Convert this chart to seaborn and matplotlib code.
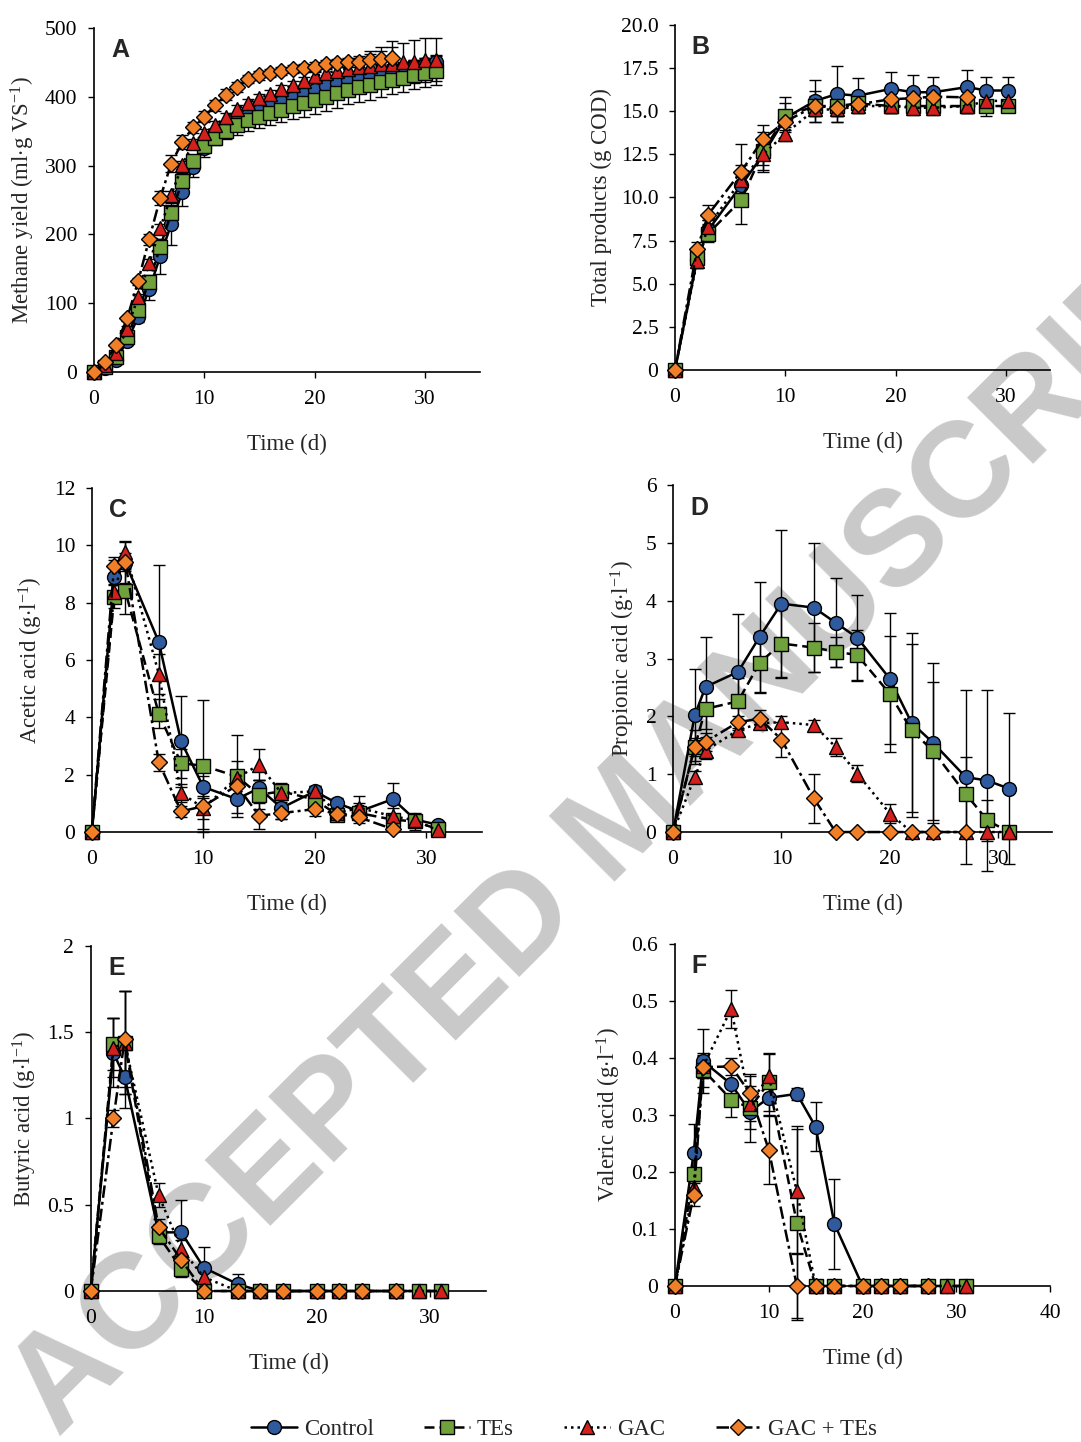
"""Methane yield, total products and VFA profiles for the four digester treatments."""

import matplotlib
matplotlib.use("Agg")
import matplotlib.pyplot as plt
import numpy as np
import seaborn as sns
from matplotlib.lines import Line2D
from matplotlib.ticker import FuncFormatter

# ---- data ----
SERIES = ["Control", "TEs", "GAC", "GAC + TEs"]

# A: methane yield, sampled daily
DAYS_A = list(range(32))
DAYS_A_GT = list(range(28))
A_CONTROL = [0, 6, 18, 45, 80, 120, 168, 215, 262, 298, 325, 342, 355, 365, 373, 380,
             386, 392, 398, 404, 410, 415, 420, 424, 428, 431, 435, 438, 441, 444, 447, 450]
A_CONTROL_ERR = [0, 2, 4, 6, 8, 16, 25, 30, 20, 15, 12, 10, 10, 10, 10, 10,
                 10, 10, 10, 10, 10, 10, 10, 10, 10, 10, 10, 10, 10, 10, 10, 10]
A_TES = [0, 8, 22, 51, 90, 131, 182, 231, 277, 306, 328, 340, 350, 359, 366, 371,
         376, 381, 386, 391, 396, 400, 405, 410, 414, 417, 421, 425, 428, 432, 435, 438]
A_TES_ERR = [0, 2, 3, 5, 8, 10, 12, 12, 12, 10, 10, 10, 12, 14, 15, 16,
             17, 18, 19, 20, 21, 21, 21, 21, 21, 21, 21, 21, 21, 21, 21, 21]
A_GAC = [0, 10, 27, 63, 109, 158, 209, 257, 301, 333, 347, 359, 371, 382, 391, 398,
         404, 411, 417, 423, 430, 434, 438, 441, 443, 445, 447, 448, 450, 451, 453, 454]
A_GAC_ERR = [0, 2, 3, 4, 5, 6, 6, 6, 6, 6, 6, 6, 6, 6, 6, 6,
             6, 6, 6, 6, 6, 8, 10, 12, 14, 17, 20, 24, 28, 31, 32, 31]
A_GT = [0, 14, 39, 78, 132, 193, 253, 303, 334, 356, 371, 388, 403, 414, 426, 431,
        435, 438, 440, 442, 444, 447, 449, 450, 451, 454, 455, 456]
A_GT_ERR = [0, 2, 3, 4, 5, 8, 10, 12, 10, 8, 8, 8, 8, 7, 6, 6,
            6, 6, 6, 6, 6, 6, 6, 7, 8, 12, 18, 25]

# B: total products
DAYS_B = [0, 2, 3, 6, 8, 10, 12.7, 14.7, 16.6, 19.6, 21.6, 23.4, 26.5, 28.2, 30.2]
DAYS_B_GT = DAYS_B[:13]
B_CONTROL = [0, 6.4, 8.1, 10.7, 12.5, 14.6, 15.6, 16.0, 15.9, 16.3, 16.1, 16.1, 16.4, 16.2, 16.2]
B_CONTROL_ERR = [0, 0.5, 0.6, 1.2, 1.0, 1.2, 1.2, 1.6, 1.0, 1.0, 1.0, 0.9, 1.0, 0.8, 0.8]
B_TES = [0, 6.5, 7.9, 9.85, 12.7, 14.7, 15.3, 15.3, 15.45, 15.3, 15.3, 15.3, 15.3, 15.3, 15.3]
B_TES_ERR = [0, 0.5, 0.5, 1.4, 1.1, 0.8, 0.6, 0.6, 0.5, 0.4, 0.4, 0.4, 0.4, 0.6, 0.3]
B_GAC = [0, 6.3, 8.3, 11.0, 12.5, 13.7, 15.1, 15.1, 15.3, 15.3, 15.2, 15.2, 15.3, 15.6, 15.6]
B_GAC_ERR = [0, 0.4, 0.4, 0.5, 0.6, 0.4, 0.4, 0.4, 0.4, 0.4, 0.4, 0.4, 0.4, 0.4, 0.4]
B_GT = [0, 7.0, 9.0, 11.5, 13.4, 14.4, 15.3, 15.2, 15.4, 15.7, 15.75, 15.85, 15.8]
B_GT_ERR = [0, 0.4, 0.55, 1.6, 0.8, 0.6, 0.9, 0.8, 0.4, 0.4, 0.4, 0.4, 0.4]

# C-F: acids, same sampling days
DAYS = [0, 2, 3, 6, 8, 10, 13, 15, 17, 20, 22, 24, 27, 29, 31]
DAYS_GT = DAYS[:13]

C_CONTROL = [0, 8.9, 9.4, 6.63, 3.16, 1.57, 1.15, 1.53, 0.84, 1.42, 1.0, 0.72, 1.15, 0.43, 0.26]
C_CONTROL_ERR = [0, 0.6, 0.7, 2.7, 1.6, 0.4, 0.5, 0.3, 0.4, 0.2, 0.2, 0.3, 0.55, 0.2, 0.1]
C_TES = [0, 8.2, 8.4, 4.13, 2.4, 2.31, 1.94, 1.3, 1.42, 1.13, 0.6, 0.66, 0.43, 0.37, 0.1]
C_TES_ERR = [0, 0.4, 0.8, 0.5, 0.5, 2.3, 1.43, 0.5, 0.3, 0.3, 0.2, 0.2, 0.2, 0.3, 0.1]
C_GAC = [0, 8.36, 9.76, 5.52, 1.36, 0.84, 1.88, 2.35, 1.36, 1.42, 0.66, 0.84, 0.55, 0.41, 0.06]
C_GAC_ERR = [0, 0.3, 0.4, 0.7, 0.3, 0.4, 0.6, 0.55, 0.3, 0.2, 0.2, 0.4, 0.3, 0.2, 0.05]
C_GT = [0, 9.29, 9.42, 2.43, 0.72, 0.9, 1.62, 0.57, 0.66, 0.8, 0.63, 0.51, 0.1]
C_GT_ERR = [0, 0.3, 0.3, 0.3, 0.2, 0.8, 0.5, 0.45, 0.2, 0.25, 0.2, 0.2, 0.1]

D_CONTROL = [0, 2.02, 2.51, 2.77, 3.38, 3.95, 3.88, 3.62, 3.36, 2.65, 1.89, 1.54, 0.95, 0.89, 0.75]
D_CONTROL_ERR = [0, 0.8, 0.87, 1.0, 0.95, 1.27, 1.12, 0.77, 0.74, 1.13, 1.55, 1.39, 1.5, 1.56, 1.31]
D_TES = [0, 1.47, 2.13, 2.26, 2.93, 3.26, 3.19, 3.12, 3.06, 2.39, 1.76, 1.40, 0.66, 0.2, 0]
D_TES_ERR = [0, 0.3, 0.35, 0.4, 0.53, 0.6, 0.42, 0.26, 0.43, 1.0, 1.5, 1.2, 0.64, 0.35, 0]
D_GAC = [0, 0.95, 1.41, 1.76, 1.88, 1.9, 1.85, 1.47, 1.01, 0.32, 0, 0, 0, 0, 0]
D_GAC_ERR = [0, 0.1, 0.15, 0.1, 0.1, 0.1, 0.08, 0.15, 0.15, 0.16, 0, 0, 0, 0, 0]
D_GT = [0, 1.47, 1.56, 1.9, 1.96, 1.6, 0.58, 0, 0, 0, 0, 0, 0]
D_GT_ERR = [0, 0.15, 0.15, 0.1, 0.15, 0.3, 0.42, 0, 0, 0, 0, 0, 0]

E_CONTROL = [0, 1.38, 1.24, 0.34, 0.34, 0.135, 0.04, 0, 0, 0, 0, 0, 0, 0, 0]
E_CONTROL_ERR = [0, 0.2, 0.18, 0.05, 0.19, 0.12, 0.06, 0, 0, 0, 0, 0, 0, 0, 0]
E_TES = [0, 1.43, 1.44, 0.32, 0.13, 0, 0, 0, 0, 0, 0, 0, 0, 0, 0]
E_TES_ERR = [0, 0.15, 0.3, 0.05, 0.05, 0, 0, 0, 0, 0, 0, 0, 0, 0, 0]
E_GAC = [0, 1.41, 1.44, 0.555, 0.245, 0.08, 0, 0, 0, 0, 0, 0, 0, 0, 0]
E_GAC_ERR = [0, 0.17, 0.3, 0.07, 0.05, 0.03, 0, 0, 0, 0, 0, 0, 0, 0, 0]
E_GT = [0, 1.0, 1.46, 0.37, 0.18, 0, 0, 0, 0, 0, 0, 0, 0]
E_GT_ERR = [0, 0.05, 0.28, 0.05, 0.03, 0, 0, 0, 0, 0, 0, 0, 0]

F_CONTROL = [0, 0.234, 0.394, 0.354, 0.306, 0.33, 0.337, 0.279, 0.109, 0, 0, 0, 0, 0, 0]
F_CONTROL_ERR = [0, 0.05, 0.056, 0.03, 0.03, 0.03, 0.01, 0.043, 0.079, 0, 0, 0, 0, 0, 0]
F_TES = [0, 0.196, 0.379, 0.327, 0.312, 0.357, 0.11, 0, 0, 0, 0, 0, 0, 0, 0]
F_TES_ERR = [0, 0.03, 0.03, 0.03, 0.06, 0.05, 0.17, 0, 0, 0, 0, 0, 0, 0, 0]
F_GAC = [0, 0.174, 0.385, 0.486, 0.32, 0.368, 0.166, 0, 0, 0, 0, 0, 0, 0, 0]
F_GAC_ERR = [0, 0.02, 0.02, 0.034, 0.03, 0.04, 0.11, 0, 0, 0, 0, 0, 0, 0, 0]
F_GT = [0, 0.16, 0.384, 0.385, 0.338, 0.239, 0, 0, 0, 0, 0, 0, 0]
F_GT_ERR = [0, 0.02, 0.02, 0.015, 0.03, 0.06, 0.057, 0, 0, 0, 0, 0, 0]

# ---- styling ----
sns.set_style("ticks")
plt.rcParams["font.family"] = ["Liberation Serif", "DejaVu Serif"]
plt.rcParams["mathtext.fontset"] = "custom"
plt.rcParams["mathtext.rm"] = "Liberation Serif"
plt.rcParams["mathtext.it"] = "Liberation Serif:italic"

COLORS = ["#2F5A9E", "#6FA23C", "#D4201C", "#F07F28"]
MARKERS = ["o", "s", "^", "D"]
MSIZES = [10, 9.5, 10.5, 8]
LINESTYLES = ["-", (0, (4, 2)), (0, (1, 1.6)), (0, (5, 1.6, 1.2, 1.6))]

PANELS = [
    ("A", [(DAYS_A, A_CONTROL, A_CONTROL_ERR), (DAYS_A, A_TES, A_TES_ERR),
           (DAYS_A, A_GAC, A_GAC_ERR), (DAYS_A_GT, A_GT, A_GT_ERR)],
     r"Methane yield (ml$\cdot$g VS$^{\mathregular{-1}}$)", (0, 500), 100, (0, 35)),
    ("B", [(DAYS_B, B_CONTROL, B_CONTROL_ERR), (DAYS_B, B_TES, B_TES_ERR),
           (DAYS_B, B_GAC, B_GAC_ERR), (DAYS_B_GT, B_GT, B_GT_ERR)],
     "Total products (g COD)", (0, 20), 2.5, (0, 34)),
    ("C", [(DAYS, C_CONTROL, C_CONTROL_ERR), (DAYS, C_TES, C_TES_ERR),
           (DAYS, C_GAC, C_GAC_ERR), (DAYS_GT, C_GT, C_GT_ERR)],
     r"Acetic acid (g$\cdot$l$^{\mathregular{-1}}$)", (0, 12), 2, (0, 35)),
    ("D", [(DAYS, D_CONTROL, D_CONTROL_ERR), (DAYS, D_TES, D_TES_ERR),
           (DAYS, D_GAC, D_GAC_ERR), (DAYS_GT, D_GT, D_GT_ERR)],
     r"Propionic acid (g$\cdot$l$^{\mathregular{-1}}$)", (0, 6), 1, (0, 35)),
    ("E", [(DAYS, E_CONTROL, E_CONTROL_ERR), (DAYS, E_TES, E_TES_ERR),
           (DAYS, E_GAC, E_GAC_ERR), (DAYS_GT, E_GT, E_GT_ERR)],
     r"Butyric acid (g$\cdot$l$^{\mathregular{-1}}$)", (0, 2), 0.5, (0, 35)),
    ("F", [(DAYS, F_CONTROL, F_CONTROL_ERR), (DAYS, F_TES, F_TES_ERR),
           (DAYS, F_GAC, F_GAC_ERR), (DAYS_GT, F_GT, F_GT_ERR)],
     r"Valeric acid (g$\cdot$l$^{\mathregular{-1}}$)", (0, 0.6), 0.1, (0, 40)),
]

# axes rectangles in figure fractions (left, bottom, width, height)
RECTS = [
    [0.087, 0.742, 0.357, 0.2386], [0.6244, 0.7434, 0.347, 0.2393],
    [0.085, 0.423, 0.361, 0.2386], [0.6226, 0.423, 0.351, 0.2406],
    [0.084, 0.1047, 0.366, 0.2393], [0.6244, 0.1082, 0.347, 0.2372],
]


def fmt_tick(v, pos, step):
    if v == 0:
        return "0"
    if step == 2.5:
        return f"{v:.1f}"
    return f"{v:g}"


fig = plt.figure(figsize=(10.81, 14.42), dpi=100)

# watermark behind everything
fig.text(0.57, 0.438, "ACCEPTED MANUSCRIPT", rotation=45, fontsize=97,
         fontweight="bold", family="Liberation Sans", color="#c9c9c9",
         ha="center", va="center_baseline", rotation_mode="anchor", zorder=-10)

for (letter, series, ylabel, ylim, ystep, xlim), rect in zip(PANELS, RECTS):
    ax = fig.add_axes(rect)
    ax.set_facecolor("none")
    for i, (x, y, err) in enumerate(series):
        x = np.asarray(x, dtype=float)
        y = np.asarray(y, dtype=float)
        err = np.asarray(err, dtype=float)
        m = err > 0
        ax.errorbar(x[m], y[m], yerr=err[m], fmt="none", ecolor="black",
                    elinewidth=1, capsize=4.5, capthick=1, zorder=1.5, clip_on=False)
        sns.lineplot(x=x, y=y, ax=ax, errorbar=None, sort=False,
                     color="black", linewidth=1.8, linestyle=LINESTYLES[i],
                     marker=MARKERS[i], markersize=MSIZES[i],
                     markerfacecolor=COLORS[i], markeredgecolor="black",
                     markeredgewidth=1, clip_on=False, zorder=2 + i)

    ax.set_xlim(*xlim)
    ax.set_ylim(*ylim)
    ax.set_xticks(np.arange(0, xlim[1] + 0.1, 10))
    ax.set_yticks(np.arange(ylim[0], ylim[1] + ystep / 2, ystep))
    ax.yaxis.set_major_formatter(FuncFormatter(lambda v, p, s=ystep: fmt_tick(v, p, s)))
    ax.tick_params(axis="both", direction="out", length=4, width=1,
                   labelsize=15.5, colors="black")
    ax.tick_params(axis="x", pad=9)
    ax.tick_params(axis="y", pad=8)
    for side in ["top", "right"]:
        ax.spines[side].set_visible(False)
    for side in ["left", "bottom"]:
        ax.spines[side].set_color("black")
        ax.spines[side].set_linewidth(1.2)
    ax.set_xlabel("Time (d)", fontsize=16.5, labelpad=18)
    ax.set_ylabel(ylabel, fontsize=16.5, labelpad=6)
    ax.text(0.045, 0.935, letter, transform=ax.transAxes, fontsize=18,
            fontweight="bold", family="Liberation Sans", ha="left", va="center")

handles = [
    Line2D([], [], color="black", linewidth=1.8, linestyle=LINESTYLES[i],
           marker=MARKERS[i], markersize=MSIZES[i], markerfacecolor=COLORS[i],
           markeredgecolor="black", markeredgewidth=1)
    for i in range(4)
]
fig.legend(handles, SERIES, loc="center", bbox_to_anchor=(0.522, 0.0085), ncol=4,
           frameon=False, fontsize=16.5, handlelength=2.0, columnspacing=2.2,
           handletextpad=0.3)

plt.savefig("out.png", dpi=100)
plt.close()
